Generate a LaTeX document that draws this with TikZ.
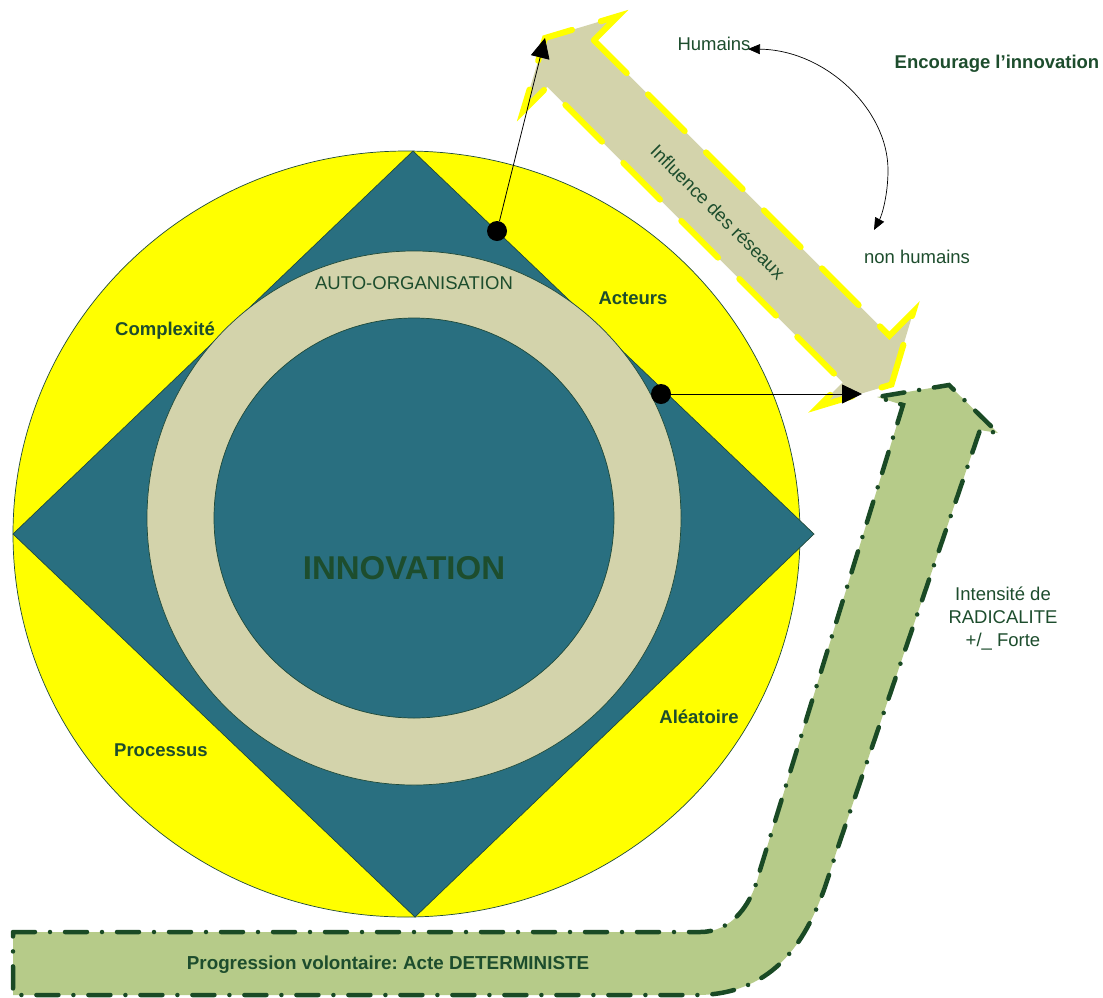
\documentclass[tikz,border=0pt]{standalone}
\usepackage{fontspec}
\setmainfont{Liberation Sans}
\usetikzlibrary{arrows.meta}
\frenchspacing
\definecolor{yel}{HTML}{FFFF00}
\definecolor{teal2}{HTML}{296F80}
\definecolor{beige}{HTML}{D3D3AB}
\definecolor{lgreen}{HTML}{B6CB89}
\definecolor{dgreen}{HTML}{1A4A25}
\definecolor{txt}{HTML}{1D4D2D}
\definecolor{edge}{HTML}{1F4A3A}
\begin{document}
\begin{tikzpicture}[x=1pt,y=-1pt,
  lbl/.style={text=txt,font=\fontsize{18.5}{23}\selectfont,inner sep=0pt},
  blbl/.style={text=txt,font=\fontsize{18.5}{23}\selectfont\bfseries,inner sep=0pt},
  dot/.style={circle,fill=black,minimum size=20pt,inner sep=0pt},
  blk/.style={-{Triangle[length=20pt,width=19pt]},line width=0.8pt},
  shapeedge/.style={draw=edge,line width=0.7pt},
  smallhead/.style={{Triangle[length=12pt,width=10pt]}-{Triangle[length=12pt,width=10pt]},line width=0.7pt}]
\useasboundingbox (0,0) rectangle (1103,997);
\fill[white] (0,0) rectangle (1103,997);
% circle and diamond
\path[fill=yel,shapeedge] (406.5,534) ellipse [x radius=393.5pt, y radius=383pt];
\path[fill=teal2,shapeedge] (413,151) -- (814,534) -- (415,917) -- (13,534) -- cycle;
\path[fill=beige,shapeedge] (414,518) circle[radius=267pt];
\path[fill=teal2,shapeedge] (414,518) circle[radius=200pt];
% labels inside
\node[lbl] (auto) at (414,283) {AUTO-ORGANISATION};
\node[text=txt,font=\fontsize{33}{38}\selectfont\bfseries,inner sep=0pt] (innov) at (404,568) {INNOVATION};
\node[blbl] (compl) at (165,331) {Complexité};
\node[blbl] (act) at (633,298) {Acteurs};
\node[blbl] (proc) at (161,750) {Processus};
\node[blbl] (alea) at (699,717) {Aléatoire};
% top double arrow
\path[fill=beige, draw=yel, line width=6pt, dash pattern=on 52pt off 30pt, line cap=round, line join=miter]
  (593.8,40.2) -- (617.9,16.1) -- (545,38) -- (523.1,110.9) -- (547.2,86.8) -- (842.7,382.3)
  -- (818.6,406.4) -- (891.5,384.5) -- (913.4,311.6) -- (889.3,335.7) -- cycle;
\node[lbl,rotate=-45] (infl) at (718,212) {Influence des réseaux};
% green bent arrow
\path[fill=lgreen, draw=dgreen, line width=4.5pt, line cap=round, dash pattern=on 22pt off 15pt on 0pt off 15pt]
  (13,932) -- (700,932) .. controls (732,932) and (752,905) .. (760,870) -- (903,405) -- (877,397)
  -- (949,385) -- (998,433) -- (980,430) -- (837,850) -- (828,878)
  .. controls (808,940) and (775,993) .. (700,995) -- (13,995) -- cycle;
\node[text=txt,font=\fontsize{18.8}{23}\selectfont\bfseries,inner sep=0pt] (prog) at (388,965) {Progression volontaire: Acte DETERMINISTE};
% outer labels
\node[lbl] (hum) at (714,44) {Humains};
\node[lbl] (nonhum) at (917,257) {non humains};
\node[blbl] (enc) at (997,64) {Encourage l’innovation};
\node[lbl,align=center] (rad) at (1003,619) {Intensité de\\RADICALITE\\+/\_ Forte};
% dots and arrows
\node[dot] (d1) at (497,231) {};
\node[dot] (d2) at (661,394) {};
\coordinate (t1) at (545,38);
\coordinate (t2) at (862,394);
\draw[blk] (d1) -- (t1);
\draw[blk] (d2) -- (t2);
\coordinate (h1) at (748,49);
\coordinate (h2) at (874,230);
\draw[smallhead] (h1) .. controls (826,50) and (888,110) .. (888,170) .. controls (888,195) and (882,215) .. (h2);
\end{tikzpicture}
\end{document}
